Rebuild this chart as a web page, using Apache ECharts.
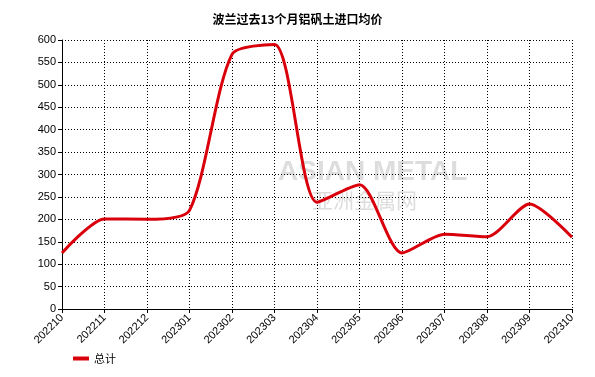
<!DOCTYPE html>
<html><head><meta charset="utf-8">
<script src="https://cdn.jsdelivr.net/npm/echarts@6/dist/echarts.min.js"></script>
<style>html,body{margin:0;padding:0;background:#fff}#c{width:595px;height:377px}</style>
</head><body><div id="c"></div>
<script>
var categories = ['202210','202211','202212','202301','202302','202303','202304','202305','202306','202307','202308','202309','202310'];
var totalValues = [125, 201, 200, 220, 568, 590, 238, 277, 125, 167, 161, 234, 160];
var seriesName = '总计';
var titleText = '波兰过去13个月铝矾土进口均价';

var chart = echarts.init(document.getElementById('c'));
chart.setOption({
  animation: false,
  backgroundColor: '#fff',
  title: {text: titleText, left: 'center', top: 8,
    textStyle: {fontSize: 12, fontWeight: 'bold', color: '#000', fontFamily: 'Noto Sans CJK SC'}},
  graphic: [
    {type: 'text', left: 278, top: 158, z: 0, style: {text: 'ASIAN METAL', fontSize: 28, fontWeight: 'bold', fill: 'rgba(170,170,170,0.4)', fontFamily: 'Liberation Sans'}},
    {type: 'text', left: 312, top: 190, z: 0, style: {text: '亚洲金属网', fontSize: 21, fill: 'rgba(170,170,170,0.4)', fontFamily: 'Noto Sans CJK SC'}}
  ],
  legend: {left: 68, bottom: 8, itemWidth: 16, itemHeight: 4, icon: 'rect',
    textStyle: {fontSize: 11, color: '#000', fontFamily: 'Noto Sans CJK SC'},
    data: [seriesName]},
  grid: {left: 62, right: 23, top: 40, bottom: 68},
  xAxis: {type: 'category', data: categories, boundaryGap: false,
    axisLine: {lineStyle: {color: '#000', width: 1}},
    axisTick: {show: true, length: 4, lineStyle: {color: '#000'}},
    axisLabel: {rotate: 45, fontSize: 11, color: '#000', fontFamily: 'Liberation Sans', margin: 7},
    splitLine: {show: true, lineStyle: {color: '#000', type: [1, 2], width: 1}}},
  yAxis: {type: 'value', min: 0, max: 600, interval: 50,
    axisLine: {show: true, lineStyle: {color: '#000', width: 1}},
    axisTick: {show: true, length: 4, lineStyle: {color: '#000'}},
    axisLabel: {fontSize: 11, color: '#000', fontFamily: 'Liberation Sans', margin: 6},
    splitLine: {show: true, lineStyle: {color: '#000', type: [1, 2], width: 1}}},
  series: [{name: seriesName, type: 'line', data: totalValues, smooth: 0.25,
    showSymbol: false, symbol: 'none', z: 5,
    lineStyle: {color: '#d9000b', width: 3},
    itemStyle: {color: '#d9000b'}}]
});
</script></body></html>
